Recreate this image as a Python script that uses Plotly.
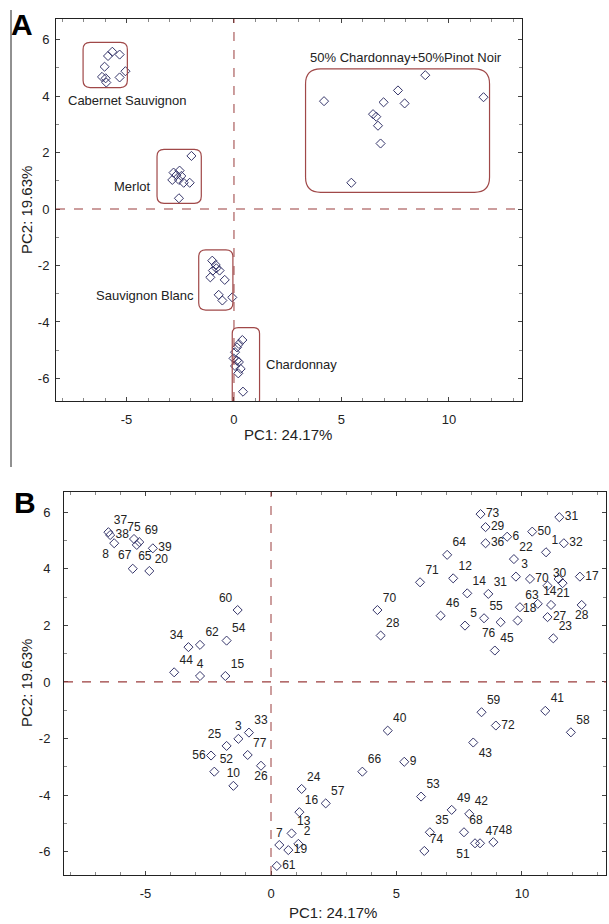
import plotly.graph_objects as go

# ---------------- Panel A data (group scores) ----------------
cab_x = [-5.66, -5.86, -5.32, -6.02, -5.05, -5.32, -6.14, -5.97, -5.94]
cab_y = [5.57, 5.42, 5.47, 5.04, 4.88, 4.66, 4.68, 4.63, 4.48]
mer_x = [-1.98, -2.53, -2.81, -2.68, -2.87, -2.56, -2.34, -2.06, -2.56, -2.45]
mer_y = [1.88, 1.36, 1.29, 1.20, 1.03, 1.03, 0.93, 0.93, 0.38, 1.17]
sb_x = [-1.01, -0.85, -0.82, -0.98, -0.67, -1.10, -0.43, -0.71, -0.54, -0.08]
sb_y = [-1.83, -1.98, -2.10, -2.18, -2.18, -2.42, -2.51, -3.04, -3.24, -3.13]
ch_x = [0.39, 0.23, 0.14, 0.05, -0.02, 0.14, 0.23, 0.05, 0.31, 0.20, 0.42]
ch_y = [-4.64, -4.78, -4.90, -5.07, -5.29, -5.37, -5.42, -5.56, -5.66, -5.82, -6.47]
bl_x = [4.19, 5.46, 6.47, 6.62, 6.70, 6.96, 6.82, 7.63, 7.94, 8.90, 11.61]
bl_y = [3.82, 0.93, 3.36, 3.27, 2.95, 3.78, 2.32, 4.20, 3.74, 4.74, 3.96]

group_names = ["Cabernet Sauvignon", "Merlot", "Sauvignon Blanc", "Chardonnay",
               "50% Chardonnay+50%Pinot Noir"]

# ---------------- Panel B data (sample scores) ----------------
b_labels = ["37", "38", "8", "75", "69", "67", "39", "65", "20", "60", "54", "62", "34", "44", "4", "15",
            "73", "29", "6", "50", "31", "36", "22", "1", "32", "64", "71", "12", "3", "70", "30", "", "",
            "17", "14", "31", "70", "28", "46", "5", "55", "76", "45", "63", "18", "14", "21", "27", "23", "28",
            "33", "3", "25", "77", "56", "52", "26", "10", "24", "57", "16", "13", "2", "7", "19", "61",
            "59", "41", "72", "58", "40", "43", "66", "9", "53", "49", "42", "68", "35", "74", "51", "47", "48"]
b_x = [-6.48, -6.41, -6.25, -5.46, -5.25, -5.35, -4.71, -5.51, -4.85, -1.33, -1.77, -2.83, -3.29, -3.86, -2.83, -1.82,
       8.35, 8.55, 9.41, 10.41, 11.49, 8.55, 9.68, 10.96, 11.67, 7.02, 5.94, 7.26, 9.76, 10.32, 11.02, 11.46, 11.62,
       12.31, 7.82, 8.66, 4.24, 4.37, 6.76, 7.73, 8.49, 9.15, 8.92, 9.92, 9.83, 10.63, 11.16, 11.02, 11.25, 12.38,
       -0.88, -1.30, -1.77, -0.93, -2.39, -2.26, -0.40, -1.50, 1.22, 2.18, 1.13, 0.82, 1.09, 0.33, 0.69, 0.23,
       8.39, 10.93, 8.96, 11.95, 4.65, 8.06, 3.64, 5.31, 5.98, 7.20, 7.90, 7.69, 6.33, 6.11, 8.13, 8.33, 8.86]
b_y = [5.29, 5.19, 4.90, 5.05, 4.94, 4.84, 4.72, 4.00, 3.92, 2.54, 1.46, 1.31, 1.23, 0.34, 0.21, 0.21,
       5.93, 5.47, 5.13, 5.31, 5.82, 4.90, 4.34, 4.58, 4.90, 4.49, 3.52, 3.66, 3.72, 3.64, 3.40, 3.64, 3.49,
       3.72, 3.13, 3.11, 2.54, 1.64, 2.34, 1.99, 2.25, 2.11, 1.11, 2.64, 2.17, 2.76, 2.72, 2.29, 1.54, 2.72,
       -1.79, -2.01, -2.26, -2.58, -2.60, -3.17, -2.96, -3.67, -3.78, -4.29, -4.60, -5.35, -5.72, -5.76, -5.94, -6.50,
       -1.07, -1.02, -1.54, -1.78, -1.72, -2.14, -3.17, -2.82, -4.05, -4.52, -4.66, -5.31, -5.31, -5.97, -5.70, -5.70, -5.66]
b_textpos = ["top right", "middle right", "bottom left", "top center", "top right", "bottom left", "middle right",
             "top right", "top right", "top left", "top right", "top right", "top left", "top right", "top center",
             "top right",
             "middle right", "middle right", "middle right", "middle right", "middle right", "middle right",
             "top right", "top right", "middle right", "top right", "top right", "top right", "top right",
             "middle right", "top right", "top right", "top right",
             "middle right", "top right", "top right", "top right", "top right", "top right", "top right",
             "top right", "bottom left", "top right", "top right", "top right", "top right", "top right",
             "middle right", "top right", "bottom center",
             "top right", "top center", "top left", "top right", "middle left", "top right", "bottom center",
             "top center", "top right", "top right", "top right", "top right", "top right", "top center",
             "middle right", "middle right",
             "top right", "top right", "middle right", "top right", "top right", "bottom right", "top right",
             "middle right", "top right", "top right", "top right", "top right", "top right", "top right",
             "bottom left", "top right", "top right"]

x_ticks = [-5, 0, 5, 10]
y_ticks = [-6, -4, -2, 0, 2, 4, 6]
x_title = "PC1: 24.17%"
y_title = "PC2: 19.63%"

# ---------------- styling / layout ----------------
W, H = 609, 924
FONT = "Liberation Sans, Arial, sans-serif"
MK = dict(symbol="diamond-open", size=7, color="#35356a", line=dict(width=1, color="#35356a"))
BOX_COL = "#a04848"
REF_COL = "#9a3c3c"

# plot areas in pixels
A_px = dict(x0=56, x1=522, y0=19, y1=401)
B_px = dict(x0=64, x1=606, y0=492, y1=875)
A_xr, A_yr = [-8.28, 13.4], [-6.8, 6.73]
B_xr, B_yr = [-8.25, 13.35], [-6.82, 6.71]


def dom(p):
    return [p["x0"] / W, p["x1"] / W], [1 - p["y1"] / H, 1 - p["y0"] / H]


axA_x, axA_y = dom(A_px)
axB_x, axB_y = dom(B_px)

fig = go.Figure()

groups = [(cab_x, cab_y), (mer_x, mer_y), (sb_x, sb_y), (ch_x, ch_y), (bl_x, bl_y)]
for (gx, gy), nm in zip(groups, group_names):
    fig.add_trace(go.Scatter(x=gx, y=gy, mode="markers", marker=MK, name=nm,
                             xaxis="x", yaxis="y", hoverinfo="x+y+name"))

fig.add_trace(go.Scatter(x=b_x, y=b_y, mode="markers+text", text=b_labels, textposition=b_textpos,
                         textfont=dict(family=FONT, size=12, color="#222222"),
                         marker=MK, xaxis="x2", yaxis="y2", cliponaxis=False))


def axis_common(rng, ticks, dom_, anchor, standoff):
    return dict(range=rng, domain=dom_, anchor=anchor, tickvals=ticks,
                ticktext=[str(t) for t in ticks], showgrid=False, zeroline=False,
                showline=True, linecolor="#222222", linewidth=1, mirror="allticks",
                ticks="inside", ticklen=4, tickcolor="#444444",
                minor=dict(dtick=1, ticks="inside", ticklen=3, tickcolor="#888888"),
                tickfont=dict(family=FONT, size=13, color="#222222"),
                ticklabelstandoff=standoff)


layout = dict(width=W, height=H, margin=dict(l=0, r=0, t=0, b=0),
              paper_bgcolor="white", plot_bgcolor="white", showlegend=False,
              font=dict(family=FONT, color="#222222"))
layout["xaxis"] = axis_common(A_xr, x_ticks, axA_x, "y", 6)
layout["yaxis"] = axis_common(A_yr, y_ticks, axA_y, "x", 3)
layout["xaxis2"] = axis_common(B_xr, x_ticks, axB_x, "y2", 6)
layout["yaxis2"] = axis_common(B_yr, y_ticks, axB_y, "x2", 10)
fig.update_layout(**layout)

shapes = []
# reference dashed lines at 0
for xr, yr, ax in [(A_xr, A_yr, ""), (B_xr, B_yr, "2")]:
    shapes.append(dict(type="line", xref="x" + ax, yref="y" + ax, x0=0, x1=0, y0=yr[0], y1=yr[1],
                       line=dict(color=REF_COL, width=1, dash="dash")))
    shapes.append(dict(type="line", xref="x" + ax, yref="y" + ax, x0=xr[0], x1=xr[1], y0=0, y1=0,
                       line=dict(color=REF_COL, width=1.2, dash="dash")))

# rounded group boxes for panel A
sx = (A_px["x1"] - A_px["x0"]) / (A_xr[1] - A_xr[0])
sy = (A_px["y1"] - A_px["y0"]) / (A_yr[1] - A_yr[0])
boxes = [(-7.02, -4.96, 4.30, 5.90, 7), (-3.58, -1.52, 0.20, 2.11, 7), (-1.64, -0.05, -3.58, -1.45, 7),
         (-0.08, 1.19, -6.95, -4.20, 6), (3.33, 11.89, 0.59, 4.96, 15)]


def rrect(x0, x1, y0, y1, r):
    rx, ry = r / sx, r / sy
    return (f"M {x0+rx},{y0} L {x1-rx},{y0} Q {x1},{y0} {x1},{y0+ry} "
            f"L {x1},{y1-ry} Q {x1},{y1} {x1-rx},{y1} L {x0+rx},{y1} Q {x0},{y1} {x0},{y1-ry} "
            f"L {x0},{y0+ry} Q {x0},{y0} {x0+rx},{y0} Z")


for b in boxes:
    shapes.append(dict(type="path", xref="x", yref="y", path=rrect(*b),
                       line=dict(color=BOX_COL, width=1.2)))

# left frame line of the figure
shapes.append(dict(type="line", xref="paper", yref="paper", x0=11 / W, x1=11 / W,
                   y0=1 - 467 / H, y1=1 - 10 / H, line=dict(color="#222222", width=1)))
fig.update_layout(shapes=shapes)

ann = []
label_pos = [(-4.95, 3.86), (-4.70, 0.78), (-4.12, -3.08), (3.12, -5.52), (7.99, 5.38)]
for nm, (lx, ly) in zip(group_names, label_pos):
    ann.append(dict(x=lx, y=ly, xref="x", yref="y", text=nm, showarrow=False,
                    xanchor="center", yanchor="middle",
                    font=dict(family=FONT, size=13, color="#222222")))

for cx, cy, rot, t in [(288, 434, 0, x_title), (26, 210, -90, y_title),
                       (333, 912, 0, x_title), (26, 683, -90, y_title)]:
    ann.append(dict(x=cx / W, y=1 - cy / H, xref="paper", yref="paper", text=t, textangle=rot,
                    xanchor="center", yanchor="middle",
                    showarrow=False, font=dict(family=FONT, size=15, color="#222222")))

for cx, cy, t in [(22, 25, "A"), (25, 502, "B")]:
    ann.append(dict(x=cx / W, y=1 - cy / H, xref="paper", yref="paper", text=f"<b>{t}</b>",
                    xanchor="center", yanchor="middle",
                    showarrow=False, font=dict(family=FONT, size=30, color="#000000")))
fig.update_layout(annotations=ann)

fig.write_html("out.html")
